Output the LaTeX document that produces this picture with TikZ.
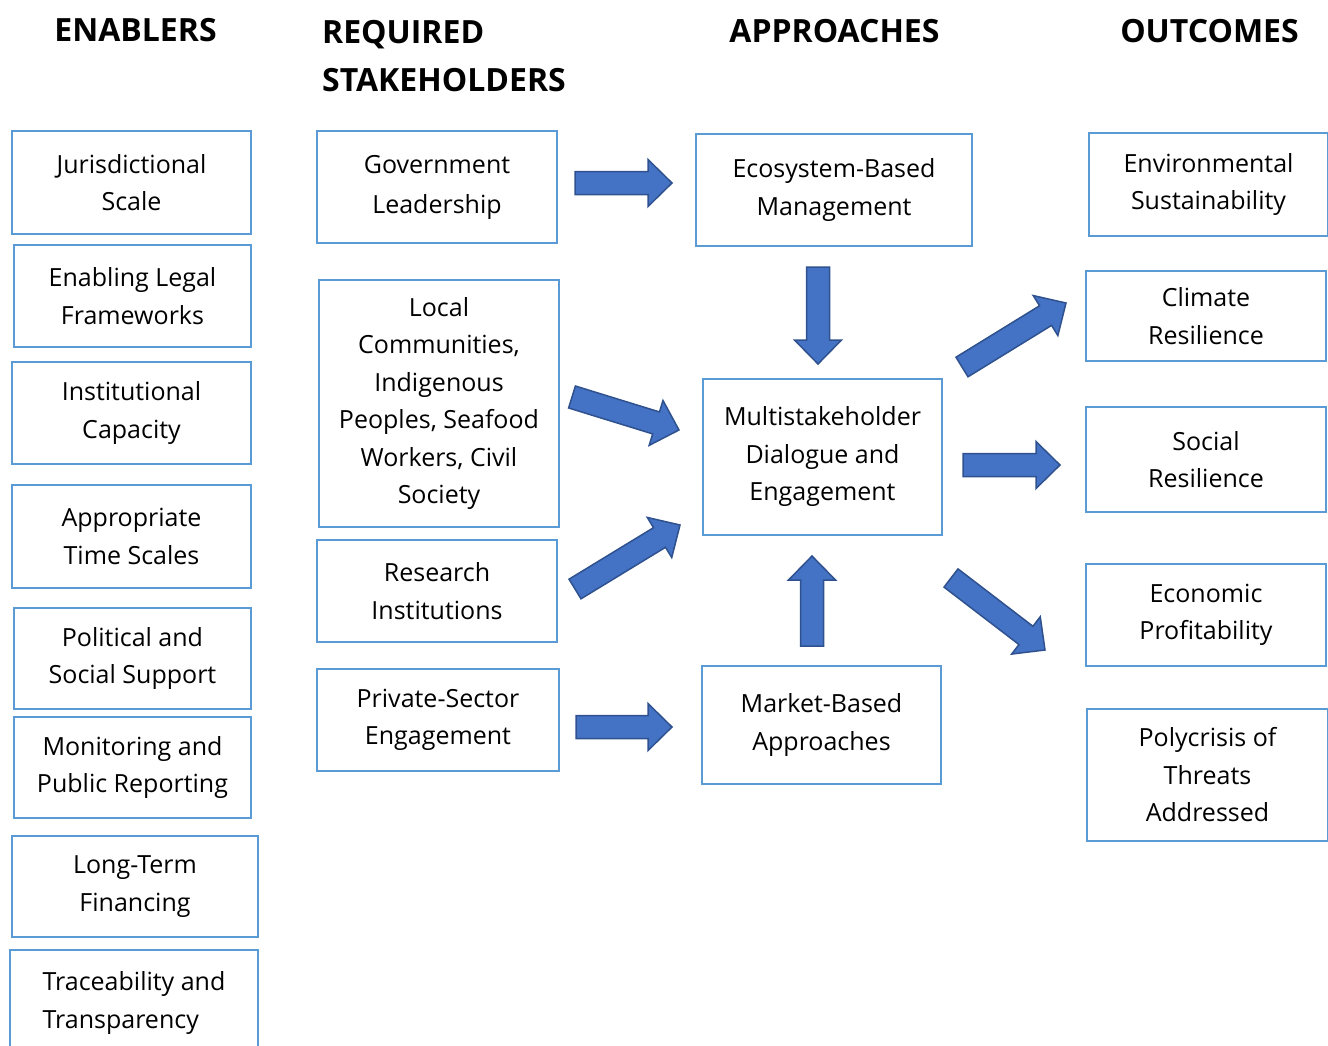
\documentclass[tikz,border=0pt]{standalone}
\usepackage{fontspec}
\setmainfont{Open Sans}
\usepackage{tikz}
\usetikzlibrary{calc}
\definecolor{boxblue}{RGB}{91,155,213}
\definecolor{arrowfill}{RGB}{68,114,196}
\definecolor{arrowline}{RGB}{47,82,143}
\newcommand{\blockarrow}[2]{%
	\coordinate (batail) at (#1);
	\coordinate (batip) at (#2);
	\coordinate (bahead) at ($(batip)!24pt!(batail)$);
	\draw[arrowshape] ($(batail)!11.5pt!90:(batip)$) -- ($(bahead)!11.5pt!-90:(batail)$) -- ($(bahead)!23.5pt!-90:(batail)$) -- (batip) -- ($(bahead)!23.5pt!90:(batail)$) -- ($(bahead)!11.5pt!90:(batail)$) -- ($(batail)!11.5pt!-90:(batip)$) -- cycle;
}

\begin{document}
\begin{tikzpicture}[x=1pt, y=-1pt,
	box/.style={draw=boxblue, line width=2pt, align=center, inner sep=0pt, text=black, font=\fontsize{25}{37.5}\selectfont},
	header/.style={font=\fontsize{32}{48}\selectfont\bfseries, inner sep=0pt, align=left},
	arrowshape/.style={draw=arrowline, fill=arrowfill, line width=1.5pt, line join=miter}]
	\useasboundingbox (0,0) rectangle (1328,1046);
	% headers
	\node[header, anchor=base] (henab) at (135.5,42) {ENABLERS};
	\node[header, anchor=north west] (hstake) at (322,20) {REQUIRED\\STAKEHOLDERS};
	\node[header, anchor=base] (happr) at (834.5,43) {APPROACHES};
	\node[header, anchor=base] (hout) at (1209.5,43) {OUTCOMES};
	% enablers
	\node[box, minimum width=239, minimum height=103] (juris) at (131.5,182.5) {Jurisdictional\\Scale};
	\node[box, minimum width=237, minimum height=102] (legal) at (132.5,296) {Enabling Legal\\Frameworks};
	\node[box, minimum width=239, minimum height=102] (instit) at (131.5,413) {Institutional\\Capacity};
	\node[box, minimum width=239, minimum height=103] (timesc) at (131.5,536.5) {Appropriate\\Time Scales};
	\node[box, minimum width=237, minimum height=101] (polit) at (132.5,658.5) {Political and\\Social Support};
	\node[box, minimum width=237, minimum height=101] (monit) at (132.5,767.5) {Monitoring and\\Public Reporting};
	\node[box, minimum width=246, minimum height=101] (financ) at (135,886.5) {Long-Term\\Financing};
	\node[box, minimum width=248, minimum height=106, align=left] (trace) at (134,1003) {Traceability and\\Transparency};
	% stakeholders
	\node[box, minimum width=240, minimum height=112, font=\fontsize{25}{40}\selectfont] (gov) at (437,187) {Government\\Leadership};
	\node[box, minimum width=240, minimum height=247] (local) at (439,403.5) {Local\\Communities,\\Indigenous\\Peoples, Seafood\\Workers, Civil\\Society};
	\node[box, minimum width=240, minimum height=102] (resinst) at (437,591) {Research\\Institutions};
	\node[box, minimum width=242, minimum height=102] (priv) at (438,720) {Private-Sector\\Engagement};
	% approaches
	\node[box, minimum width=276, minimum height=112] (eco) at (834,190) {Ecosystem-Based\\Management};
	\node[box, minimum width=239, minimum height=156] (multi) at (822.5,457) {Multistakeholder\\Dialogue and\\Engagement};
	\node[box, minimum width=239, minimum height=118] (market) at (821.5,725) {Market-Based\\Approaches};
	% outcomes
	\node[box, minimum width=239, minimum height=103] (envir) at (1208.5,184.5) {Environmental\\Sustainability};
	\node[box, minimum width=240, minimum height=90] (climate) at (1206,316) {Climate\\Resilience};
	\node[box, minimum width=240, minimum height=105] (social) at (1206,459.5) {Social\\Resilience};
	\node[box, minimum width=240, minimum height=102] (econ) at (1206,615) {Economic\\Profitability};
	\node[box, minimum width=241, minimum height=132] (poly) at (1207.5,775) {Polycrisis of\\Threats\\Addressed};
	% block arrows
	\blockarrow{$(gov.east)+(17,-4)$}{$(eco.west)+(-23,-7)$}
	\blockarrow{$(eco.south)+(-16,20)$}{$(multi.north)+(-4.5,-14)$}
	\blockarrow{$(local.east)+(12,-6.5)$}{$(multi.west)+(-23,-27)$}
	\blockarrow{$(resinst.east)+(17,-2)$}{$(multi.south west)+(-22,-11)$}
	\blockarrow{$(priv.east)+(16,7)$}{$(market.west)+(-29,2)$}
	\blockarrow{$(market.north)+(-9.5,-19)$}{$(multi.south)+(-10.5,20)$}
	\blockarrow{$(multi.north east)+(19,-11)$}{$(climate.west)+(-19,-13)$}
	\blockarrow{$(multi.east)+(20,8)$}{$(social.west)+(-25,5.5)$}
	\blockarrow{$(multi.south east)+(8,42)$}{$(econ.west)+(-40,35)$}
\end{tikzpicture}
\end{document}
